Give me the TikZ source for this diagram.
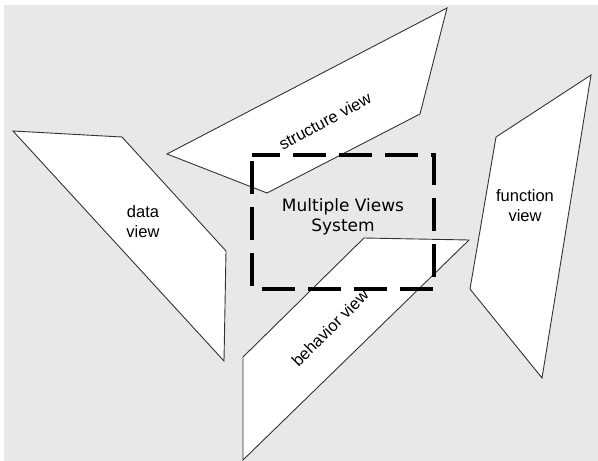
\documentclass[tikz,border=0pt]{standalone}
\usepackage{fontspec}
\setmainfont{Liberation Sans}
\newfontfamily\sysfont{DejaVu Sans}
\definecolor{bggray}{HTML}{E8E8E8}
\definecolor{edgegray}{HTML}{333333}
\tikzset{
  viewface/.style={draw=edgegray, fill=white, line width=0.9bp, line join=miter},
  viewlabel/.style={font=\fontsize{16.5bp}{20bp}\selectfont, align=center, inner sep=0pt},
  sysbox/.style={draw=black, line width=3.5bp, dash pattern=on 33bp off 13bp, dash phase=-6bp}
}
\begin{document}
\begin{tikzpicture}[x=1bp, y=-1bp]
        \useasboundingbox (0,0) rectangle (598,461);
        \fill[white] (0,0) rectangle (598,461);
        \fill[bggray] (4,5) rectangle (598,461);

        % the four views
        \draw[viewface] (13,131) -- (122,137) -- (226,251) -- (224,361) -- cycle;
        \draw[viewface] (167,154) -- (447,8) -- (420,114) -- (267,193) -- cycle;
        \draw[viewface] (496,137) -- (591,75) -- (542,378) -- (470,289) -- cycle;
        \draw[viewface] (364,238) -- (469,240) -- (243,460) -- (243,357) -- cycle;

        \node[viewlabel] (data) at (143,222) {data\\view};
        \node[viewlabel, rotate=28] (struct) at (325,121) {structure view};
        \node[viewlabel] (func) at (525,206) {function\\view};
        \node[viewlabel, rotate=45] (behav) at (330,328) {behavior view};

        % system box
        \draw[sysbox] (252,155) rectangle (434,289);
        \node[viewlabel, font=\sysfont\fontsize{17bp}{20bp}\selectfont] (sys) at (343,217) {Multiple Views\\System};
\end{tikzpicture}
\end{document}
